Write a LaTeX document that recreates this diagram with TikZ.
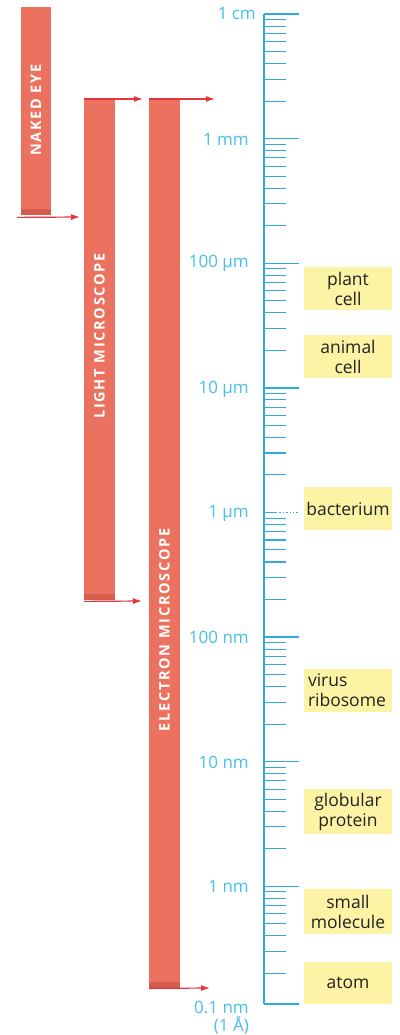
\documentclass[tikz,border=0pt]{standalone}
\usepackage{fontspec}
\setmainfont{Open Sans}
\newfontfamily\barfont[LetterSpace=12]{Open Sans}
\usetikzlibrary{arrows.meta}
\definecolor{scaleblue}{RGB}{45,170,222}
\definecolor{labelblue}{RGB}{70,190,238}
\definecolor{barfill}{RGB}{236,114,96}
\definecolor{barbottom}{RGB}{214,92,76}
\definecolor{arrowred}{RGB}{232,52,60}
\definecolor{boxyellow}{RGB}{252,243,165}
\definecolor{boxtext}{RGB}{35,35,35}
\tikzset{
  bar/.style={fill=barfill, draw=none, inner sep=0pt, anchor=north west},
  bartext/.style={text=white, font=\barfont\bfseries\fontsize{14.5}{14.5}\selectfont, rotate=90, inner sep=0pt},
  rangearrow/.style={draw=arrowred, line width=1.2pt, -{Latex[length=9pt,width=6pt]}},
  axisline/.style={draw=scaleblue, line width=1.6pt},
  majortick/.style={draw=scaleblue, line width=1.4pt},
  minortick/.style={draw=scaleblue, line width=1.1pt},
  scalelabel/.style={text=labelblue, font=\fontsize{17}{18}\selectfont, anchor=east, inner sep=0pt},
  objbox/.style={fill=boxyellow, minimum width=88pt, text width=86pt, align=center, inner sep=0pt, text=boxtext, font=\fontsize{17.5}{20}\selectfont},
}
\begin{document}
\begin{tikzpicture}[x=1pt,y=-1pt]
\useasboundingbox (0,0) rectangle (399,1035);
% bars
\node[bar, minimum width=30pt, minimum height=208pt] (nakedbar) at (21,7) {};
\node[bar, minimum width=31pt, minimum height=501pt] (lightbar) at (84,99) {};
\node[bar, minimum width=31pt, minimum height=889pt] (electronbar) at (149,99) {};
\fill[barbottom] ([yshift=6pt]nakedbar.south west) rectangle (nakedbar.south east);
\fill[barbottom] ([yshift=6pt]lightbar.south west) rectangle (lightbar.south east);
\fill[barbottom] ([yshift=6pt]electronbar.south west) rectangle (electronbar.south east);
\node[bartext] (nakedtext) at (36,110) {NAKED EYE};
\node[bartext] (lighttext) at (99.5,336) {LIGHT MICROSCOPE};
\node[bartext] (electrontext) at (164.5,630) {ELECTRON MICROSCOPE};
% arrows
\coordinate (nakedend) at (80,217);
\coordinate (lighttopend) at (143,99);
\coordinate (lightbotend) at (142,601);
\coordinate (electrontopend) at (215,99);
\coordinate (electronbotend) at (210,988);
\draw[rangearrow] ([xshift=-4pt,yshift=-2pt]nakedbar.south west) -- (nakedend);
\draw[rangearrow] (lightbar.north west) -- (lighttopend);
\draw[rangearrow] ([yshift=-1pt]lightbar.south west) -- (lightbotend);
\draw[rangearrow] (electronbar.north west) -- (electrontopend);
\draw[rangearrow] (electronbar.south west) -- (electronbotend);
% scale
\draw[axisline] (264,14) -- (264,1004);
\foreach \d in {0,...,7} {
  \pgfmathsetmacro\yy{14+124.6*\d}
  \ifnum\d=4
    \draw[majortick] (264,\yy) -- (276,\yy);
    \draw[majortick, dotted] (276,\yy) -- (299,\yy);
  \else
    \draw[majortick] (264,\yy) -- (299,\yy);
  \fi
  \foreach \k in {2,...,9} {
    \pgfmathsetmacro\ym{\yy+124.6*(1-ln(\k)/ln(10))}
    \draw[minortick] (264,\ym) -- (286,\ym);
  }
}
\draw[majortick] (264,1004) -- (299,1004);
% scale labels
\node[scalelabel] (lcm) at (256,14) {1 cm};
\node[scalelabel] (lmm) at (249,139) {1 mm};
\node[scalelabel] (l100um) at (249,263) {100 µm};
\node[scalelabel] (l10um) at (249,389) {10 µm};
\node[scalelabel] (l1um) at (249,513) {1 µm};
\node[scalelabel] (l100nm) at (249,637) {100 nm};
\node[scalelabel] (l10nm) at (249,762) {10 nm};
\node[scalelabel] (l1nm) at (249,886) {1 nm};
\node[scalelabel] (l01nm) at (249,1007) {0.1 nm};
\node[scalelabel] (lang) at (249,1025) {(1 Å)};
% object boxes
\node[objbox, minimum height=43pt] (plant) at (348,288.5) {plant\\cell};
\node[objbox, minimum height=43pt] (animal) at (348,356.5) {animal\\cell};
\node[objbox, minimum height=43pt] (bact) at (348,508.5) {bacterium};
\node[objbox, minimum height=43pt, align=left, text width=80pt] (virus) at (348,690.5) {virus\\ribosome};
\node[objbox, minimum height=45pt] (globular) at (348,811.5) {globular\\protein};
\node[objbox, minimum height=45pt] (smallmol) at (348,911.5) {small\\molecule};
\node[objbox, minimum height=42pt] (atom) at (348,983) {atom};
\end{tikzpicture}
\end{document}
